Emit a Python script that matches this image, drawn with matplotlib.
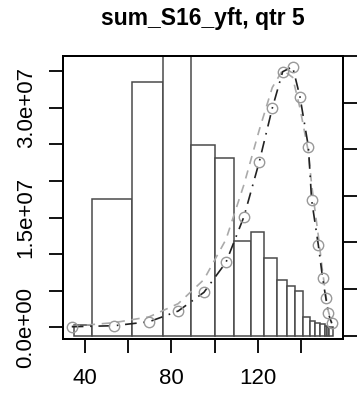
import numpy as np
import matplotlib.pyplot as plt

plt.rcParams['font.family'] = ['Liberation Sans', 'DejaVu Sans']

# observed histogram (variable width bins), right-hand scale
bin_edges = [34.9, 43.4, 61.6, 75.9, 88.8, 99.9, 109.1, 116.8, 122.9, 128.8,
             133.2, 137.3, 140.8, 144.0, 146.4, 148.7, 151.0, 152.0, 153.0, 154.5]
bar_vals = [0.23, 2.93, 5.44, 6.0, 4.08, 3.81, 2.02, 2.22, 1.66, 1.19,
            1.07, 0.96, 0.40, 0.31, 0.27, 0.24, 0.20, 0.19, 0.18]

# predicted curves, left-hand scale
pts_x = [33.9, 53.5, 69.7, 83.1, 95.0, 105.2, 113.5, 120.6, 126.6, 131.4,
         136.0, 139.4, 143.3, 144.8, 147.9, 149.9, 151.4, 152.5, 154.1]
pts_y = [0.04e6, 0.18e6, 0.73e6, 2.19e6, 4.75e6, 8.86e6, 15.11e6, 22.64e6, 29.96e6, 34.97e6,
         35.66e6, 31.55e6, 24.70e6, 17.40e6, 11.23e6, 6.67e6, 3.93e6, 1.88e6, 0.51e6]
grey_y = [0.1e6, 0.6e6, 1.4e6, 3.2e6, 6.5e6, 12.0e6, 19.5e6, 27.0e6, 32.8e6, 35.2e6,
          34.2e6, 30.0e6, 24.0e6, 19.5e6, 12.5e6, 7.5e6, 4.3e6, 2.2e6, 0.6e6]

fig = plt.figure(figsize=(3.62, 3.97), dpi=100)
ax = fig.add_axes([63/362, 1-339/397, 280/362, 283/397])
ax2 = ax.twinx()

edges = np.array(bin_edges)
ax2.bar(edges[:-1], bar_vals, width=np.diff(edges), align='edge',
        facecolor='white', edgecolor='#4a4a4a', linewidth=1.1)
ax2.set_ylim(-0.075, 6.0)
ax2.set_yticks(np.arange(0, 7))
ax2.set_yticklabels([])

ax.set_zorder(ax2.get_zorder() + 1)
ax.patch.set_visible(False)

ax.plot(pts_x, grey_y, color='#aaaaaa', lw=1.2, ls=(0, (5, 4)))
ax.plot(pts_x, pts_y, color='#222222', lw=1.2, ls=(0, (7, 4, 1, 4)))
ax.plot(pts_x, pts_y, ls='none', marker='o', ms=7.5, mfc='none', mec='#999999', mew=1.0)

ax.set_xlim(29.83, 159.31)
ax.set_ylim(-1.64e6, 37.12e6)
ax.set_xticks([40, 60, 80, 100, 120, 140])
ax.set_xticklabels(['40', '', '80', '', '120', ''])
yt = np.arange(0, 3.6e7, 5e6)
ax.set_yticks(yt)
ax.set_yticklabels(['0.0e+00', '', '', '1.5e+07', '', '', '3.0e+07', ''],
                   rotation=90, va='center')

for a in (ax, ax2):
    a.tick_params(length=10, width=1.3, labelsize=16, colors='black')
    for s in a.spines.values():
        s.set_linewidth(1.4)
ax.tick_params(axis='y', pad=9)
ax.tick_params(axis='x', pad=11)

ax.set_title('sum_S16_yft, qtr 5', fontsize=16.5, fontweight='bold', pad=22)

fig.savefig('out.png', dpi=100)
